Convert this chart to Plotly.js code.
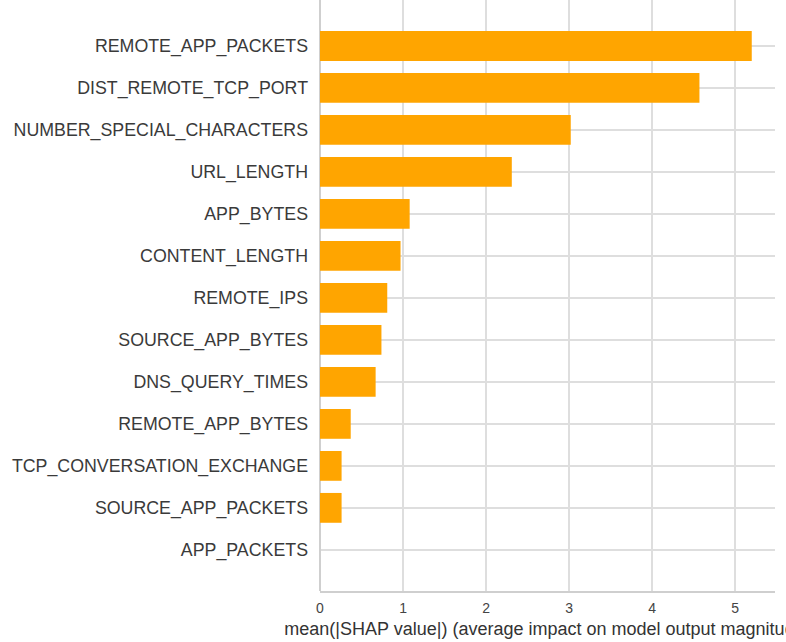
<!DOCTYPE html>
<html>
<head>
<meta charset="utf-8">
<script src="https://cdn.plot.ly/plotly-3.0.1.min.js"></script>
<style>html,body{margin:0;padding:0;overflow:hidden;background:#fff}</style>
</head>
<body>
<div id="chart" style="width:786px;height:642px"></div>
<script>
const features = [
  "REMOTE_APP_PACKETS",
  "DIST_REMOTE_TCP_PORT",
  "NUMBER_SPECIAL_CHARACTERS",
  "URL_LENGTH",
  "APP_BYTES",
  "CONTENT_LENGTH",
  "REMOTE_IPS",
  "SOURCE_APP_BYTES",
  "DNS_QUERY_TIMES",
  "REMOTE_APP_BYTES",
  "TCP_CONVERSATION_EXCHANGE",
  "SOURCE_APP_PACKETS",
  "APP_PACKETS"
];
const meanAbsShap = [5.20, 4.57, 3.02, 2.31, 1.08, 0.97, 0.81, 0.74, 0.67, 0.37, 0.26, 0.26, 0.0];
const xTicks = [0, 1, 2, 3, 4, 5];
const xTitle = "mean(|SHAP value|) (average impact on model output magnitude)";

const trace = {
  type: 'bar',
  orientation: 'h',
  x: meanAbsShap,
  y: features,
  width: 0.71,
  marker: {color: '#FFA500', line: {width: 0}},
  hoverinfo: 'x+y'
};

const layout = {
  width: 786, height: 642,
  margin: {l: 320, r: 11, t: 0, b: 51, pad: 0},
  paper_bgcolor: '#fff', plot_bgcolor: '#fff',
  showlegend: false,
  font: {family: 'Liberation Sans, Arial, sans-serif', color: '#333'},
  xaxis: {
    range: [0, 5.48],
    tickvals: xTicks,
    ticktext: xTicks.map(String),
    showgrid: true, gridcolor: '#dedede', gridwidth: 1.5,
    zeroline: true, zerolinecolor: '#cfcfcf', zerolinewidth: 1.5,
    showline: true, linecolor: '#cfcfcf', linewidth: 1.5,
    ticks: '',
    ticklabelstandoff: 4,
    tickfont: {size: 14, color: '#444'},
    title: {text: xTitle, font: {size: 18, color: '#333'}, standoff: 7}
  },
  yaxis: {
    type: 'category',
    categoryorder: 'array', categoryarray: features,
    range: [12.98, -1.095],
    showgrid: true, gridcolor: '#dedede', gridwidth: 1.5,
    showline: false,
    ticks: '',
    ticklabelstandoff: 11,
    tickfont: {size: 17.8, color: '#3a3a3a'}
  },
  bargap: 0.29
};

Plotly.newPlot('chart', [trace], layout, {displayModeBar: false, staticPlot: true});
</script>
</body>
</html>
